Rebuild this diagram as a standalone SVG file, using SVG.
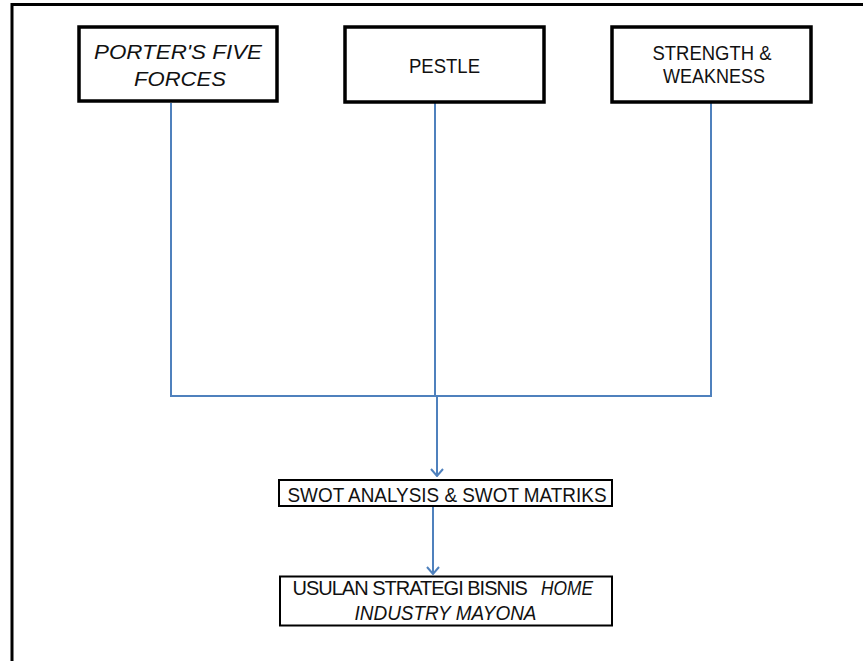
<svg xmlns="http://www.w3.org/2000/svg" width="863" height="661" viewBox="0 0 863 661">
<defs>
<style>
.frame{fill:none;stroke:#000;stroke-width:3}
.box{fill:#fff;stroke:#000;stroke-width:3.5}
.sbox{fill:#fff;stroke:#000;stroke-width:2}
.lbl{font-family:"Liberation Sans",Arial,sans-serif;font-size:21px;fill:#111;text-anchor:middle}
.sm{font-size:20px}
.it{font-style:italic}
.con{fill:none;stroke:#4f81bd;stroke-width:2}
</style>
<marker id="arr" viewBox="0 0 10 14" refX="9" refY="7" markerWidth="10" markerHeight="14" markerUnits="userSpaceOnUse" orient="auto">
<path d="M2,1 L9,7 L2,13" fill="none" stroke="#4f81bd" stroke-width="2"/>
</marker>
</defs>
<rect width="863" height="661" fill="#fff"/>
<path class="frame" d="M12,661 L12,4.5 L863,4.5"/>
<g id="connectors">
<path class="con" d="M171,103 L171,396 L711,396 L711,103"/>
<path class="con" d="M435,103 L435,396"/>
<path class="con" d="M437,396 L437,476" marker-end="url(#arr)"/>
<path class="con" d="M433,507 L433,574" marker-end="url(#arr)"/>
</g>
<g id="porter">
<rect class="box" x="79" y="27" width="198" height="74"/>
<text class="lbl it" x="178" y="59" textLength="168" lengthAdjust="spacingAndGlyphs">PORTER'S FIVE</text>
<text class="lbl it" x="180" y="85.5" textLength="92" lengthAdjust="spacingAndGlyphs">FORCES</text>
</g>
<g id="pestle">
<rect class="box" x="345" y="27" width="199" height="75"/>
<text class="lbl" x="444.5" y="72.5" textLength="71" lengthAdjust="spacingAndGlyphs">PESTLE</text>
</g>
<g id="strength">
<rect class="box" x="612" y="27" width="199" height="75"/>
<text class="lbl" x="712" y="60" textLength="119" lengthAdjust="spacingAndGlyphs">STRENGTH &amp;</text>
<text class="lbl" x="714" y="83.3" textLength="102" lengthAdjust="spacingAndGlyphs">WEAKNESS</text>
</g>
<g id="swot">
<rect class="sbox" x="279" y="480" width="333" height="26"/>
<text class="lbl" x="447" y="501.5" textLength="319" lengthAdjust="spacingAndGlyphs">SWOT ANALYSIS &amp; SWOT MATRIKS</text>
</g>
<g id="usulan">
<rect class="sbox" x="280" y="576.5" width="332" height="49"/>
<text class="lbl sm" style="text-anchor:start" x="292.5" y="595"><tspan letter-spacing="-1">USULAN STRATEGI BISNIS</tspan><tspan class="it" x="541" textLength="52" lengthAdjust="spacingAndGlyphs">HOME</tspan></text>
<text class="lbl sm it" x="445.5" y="620" textLength="182" lengthAdjust="spacingAndGlyphs">INDUSTRY MAYONA</text>
</g>
</svg>
